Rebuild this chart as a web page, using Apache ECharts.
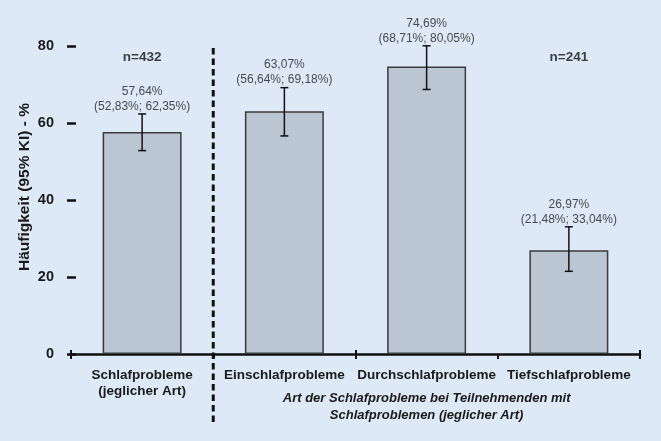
<!DOCTYPE html>
<html><head><meta charset="utf-8">
<script src="https://cdn.jsdelivr.net/npm/echarts@6/dist/echarts.min.js"></script>
<style>html,body{margin:0;padding:0;background:#dde9f6;}#c{width:661px;height:441px;}</style>
</head><body><div id="c"></div>
<script>
const categories = ['Schlafprobleme\n(jeglicher Art)', 'Einschlafprobleme', 'Durchschlafprobleme', 'Tiefschlafprobleme'];
const values = [57.64, 63.07, 74.69, 26.97];
const lower = [52.83, 56.64, 68.71, 21.48];
const upper = [62.35, 69.18, 80.05, 33.04];
const nLabels = ['n=432', '', '', 'n=241'];
const nLabelLevel = 77.0;
const yTicks = [0, 20, 40, 60, 80];
const subtitle = 'Art der Schlafprobleme bei Teilnehmenden mit\nSchlafproblemen (jeglicher Art)';
const yName = 'Häufigkeit (95% KI) - %';

const fmt = v => v.toFixed(2).replace('.', ',') + '%';
const font = 'Liberation Sans, Arial, sans-serif';

const chart = echarts.init(document.getElementById('c'));
chart.setOption({
  backgroundColor: '#dde9f6',
  animation: false,
  grid: { left: 71, right: 21, top: 46, bottom: 87 },
  xAxis: [{
    type: 'category', data: categories,
    axisLine: { lineStyle: { color: '#111', width: 2.5 } },
    axisTick: { show: true, length: 5, lineStyle: { color: '#111', width: 2 } },
    axisLabel: { interval: 0, margin: 13, color: '#1a1a1a', fontFamily: font, fontWeight: 'bold', fontSize: 13.5, lineHeight: 16 }
  }, {
    type: 'category', data: categories, position: 'bottom',
    axisLine: { show: false },
    axisTick: { show: true, inside: true, length: 4, lineStyle: { color: '#111', width: 2 } },
    axisLabel: { show: false }
  }],
  yAxis: {
    type: 'value', min: 0, max: 80, interval: 20, offset: 4,
    axisLine: { show: false },
    splitLine: { show: false },
    axisTick: { show: true, inside: true, length: 9, lineStyle: { color: '#111', width: 2.5 } },
    axisLabel: { margin: 13, color: '#1a1a1a', fontFamily: font, fontWeight: 'bold', fontSize: 14.5,
      formatter: v => yTicks.includes(v) ? String(v) : '' }
  },
  series: [{
    type: 'bar', data: values, barWidth: '55.5%',
    itemStyle: { color: '#bac7d3', borderColor: '#3a3a3a', borderWidth: 1.5 }
  }, {
    type: 'custom', clip: false,
    data: values.map((v, i) => [i, lower[i], upper[i]]),
    renderItem: (params, api) => {
      const x = api.value(0);
      const lo = api.coord([x, api.value(1)]);
      const hi = api.coord([x, api.value(2)]);
      const w = 4;
      const st = { stroke: '#111', lineWidth: 1.5 };
      return { type: 'group', children: [
        { type: 'line', shape: { x1: lo[0], y1: lo[1], x2: hi[0], y2: hi[1] }, style: st },
        { type: 'line', shape: { x1: lo[0]-w, y1: lo[1], x2: lo[0]+w, y2: lo[1] }, style: st },
        { type: 'line', shape: { x1: hi[0]-w, y1: hi[1], x2: hi[0]+w, y2: hi[1] }, style: st }
      ]};
    },
    z: 5
  }, {
    type: 'scatter', symbolSize: 0, clip: false,
    data: values.map((v, i) => [i, upper[i]]),
    label: { show: true, position: 'top', distance: 0, color: '#222', fontFamily: font, fontSize: 12, lineHeight: 15,
      formatter: p => fmt(values[p.dataIndex]) + '\n(' + fmt(lower[p.dataIndex]) + '; ' + fmt(upper[p.dataIndex]) + ')' }
  }, {
    type: 'scatter', symbolSize: 0, clip: false,
    data: nLabels.map((t, i) => [i, nLabelLevel]).filter((d, i) => nLabels[i]),
    label: { show: true, position: 'inside', color: '#111', fontFamily: font, fontWeight: 'bold', fontSize: 13.5,
      formatter: p => nLabels.filter(t => t)[p.dataIndex] }
  }]
});

const c0 = chart.convertToPixel({ xAxisIndex: 0 }, 0);
const c1 = chart.convertToPixel({ xAxisIndex: 0 }, 1);
const c3 = chart.convertToPixel({ xAxisIndex: 0 }, 3);
const xDiv = (c0 + c1) / 2;
const yTop = chart.convertToPixel({ yAxisIndex: 0 }, 80);
chart.setOption({
  graphic: [{
    type: 'line', shape: { x1: xDiv, y1: yTop + 2, x2: xDiv, y2: 422 },
    style: { stroke: '#111', lineWidth: 3, lineDash: [6.5, 4] }, z: 10
  }, {
    type: 'text', x: (c1 + c3) / 2, y: 390,
    style: { text: subtitle, align: 'center', verticalAlign: 'top', fill: '#1a1a1a', font: 'italic bold 13px ' + font, lineHeight: 17 }
  }, {
    type: 'text', x: 25, y: 187, rotation: Math.PI / 2,
    style: { text: yName, align: 'center', verticalAlign: 'middle', fill: '#1a1a1a', font: 'bold 15.5px ' + font }
  }]
});
</script></body></html>
